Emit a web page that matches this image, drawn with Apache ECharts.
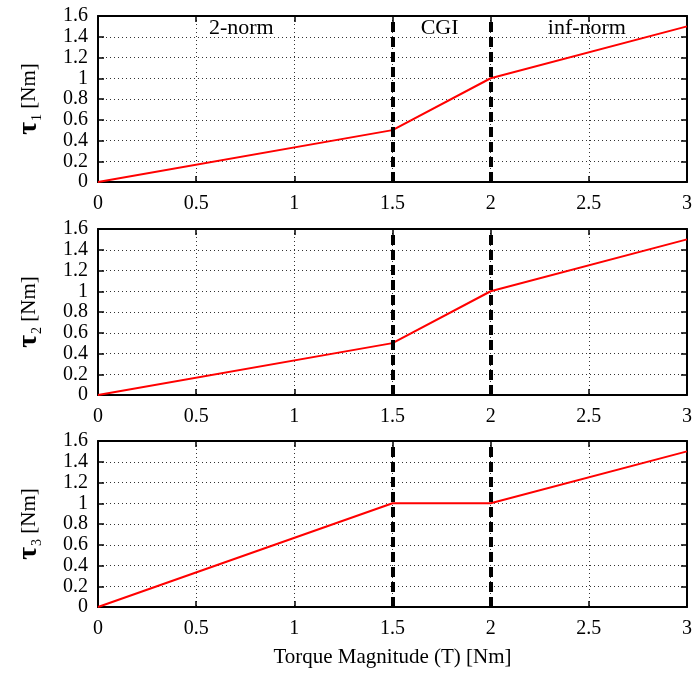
<!DOCTYPE html>
<html>
<head>
<meta charset="utf-8">
<script src="https://cdn.jsdelivr.net/npm/echarts@6/dist/echarts.min.js"></script>
<style>html,body{margin:0;padding:0;background:#fff}#c{width:698px;height:675px}</style>
</head>
<body>
<div id="c"></div>
<script>
// ---- data ----
const torqueMagnitude = [0, 1.5, 2, 3];
const tau1 = [0, 0.5, 1, 1.5];
const tau2 = [0, 0.5, 1, 1.5];
const tau3 = [0, 1, 1, 1.5];
const boundaries = [1.5, 2];
const regionNames = ['2-norm', 'CGI', 'inf-norm'];
const regionX = [0.73, 1.74, 2.49];
const regionY = 1.48;
const yNames = ['1', '2', '3'];
const xName = 'Torque Magnitude (T) [Nm]';

const FONT = 'Liberation Serif';
const tops = [16, 229, 441];
const H = 166;
const allSeries = [tau1, tau2, tau3];

const grids = [], xAxes = [], yAxes = [], series = [];
tops.forEach((t, i) => {
  grids.push({left: 98, right: 11, top: t, height: H, show: false});
  const baseX = {
    type: 'value', gridIndex: i, min: 0, max: 3, interval: 0.5,
    axisLine: {show: true, onZero: false, lineStyle: {color: '#000', width: 2}},
    axisTick: {show: true, inside: true, length: 6, lineStyle: {color: '#000', width: 1.5}},
  };
  xAxes.push(Object.assign({}, baseX, {
    position: 'bottom',
    axisLabel: {show: true, color: '#000', fontFamily: FONT, fontSize: 20, margin: 12},
    splitLine: {show: true, lineStyle: {color: '#333', width: 1, type: [1, 3]}},
    name: i === 2 ? xName : '', nameLocation: 'middle', nameGap: 40,
    nameTextStyle: {color: '#000', fontFamily: FONT, fontSize: 21}
  }));
  xAxes.push(Object.assign({}, baseX, {
    position: 'top', axisLabel: {show: false}, splitLine: {show: false}
  }));
  const baseY = {
    type: 'value', gridIndex: i, min: 0, max: 1.6, interval: 0.2,
    axisLine: {show: true, onZero: false, lineStyle: {color: '#000', width: 2}},
    axisTick: {show: true, inside: true, length: 6, lineStyle: {color: '#000', width: 1.5}},
  };
  yAxes.push(Object.assign({}, baseY, {
    position: 'left',
    axisLabel: {show: true, color: '#000', fontFamily: FONT, fontSize: 20, margin: 10},
    splitLine: {show: true, lineStyle: {color: '#333', width: 1, type: [1, 3]}},
    name: '{t|τ}{s|' + yNames[i] + '}{n| [Nm]}', nameLocation: 'middle', nameRotate: 90, nameGap: 54,
    nameTextStyle: {
      rich: {
        t: {fontFamily: FONT, fontSize: 28, fontWeight: 'bold', color: '#000', lineHeight: 30},
        s: {fontFamily: FONT, fontSize: 14, color: '#000', verticalAlign: 'bottom', padding: [10, 0, 0, 1], lineHeight: 30},
        n: {fontFamily: FONT, fontSize: 21, color: '#000', lineHeight: 30}
      }
    }
  }));
  yAxes.push(Object.assign({}, baseY, {
    position: 'right', axisLabel: {show: false}, splitLine: {show: false}
  }));
  series.push({
    type: 'line', xAxisIndex: 2 * i, yAxisIndex: 2 * i,
    data: torqueMagnitude.map((x, k) => [x, allSeries[i][k]]),
    symbol: 'none', lineStyle: {color: '#ff0000', width: 2}, z: 3,
    markLine: {
      silent: true, symbol: 'none', label: {show: false}, animation: false,
      lineStyle: {color: '#000', width: 4, type: [10, 5]},
      data: boundaries.map(b => ({xAxis: b}))
    }
  });
});
series.push({
  type: 'scatter', xAxisIndex: 0, yAxisIndex: 0, symbolSize: 0, z: 10,
  itemStyle: {opacity: 1},
  data: regionX.map((x, k) => ({value: [x, regionY], name: regionNames[k]})),
  label: {show: true, position: 'inside', formatter: p => p.name, color: '#000', opacity: 1,
          textBorderWidth: 0, fontFamily: FONT, fontSize: 22}
});

const chart = echarts.init(document.getElementById('c'), null, {renderer: 'canvas'});
chart.setOption({
  animation: false,
  grid: grids, xAxis: xAxes, yAxis: yAxes, series: series
});
</script>
</body>
</html>
